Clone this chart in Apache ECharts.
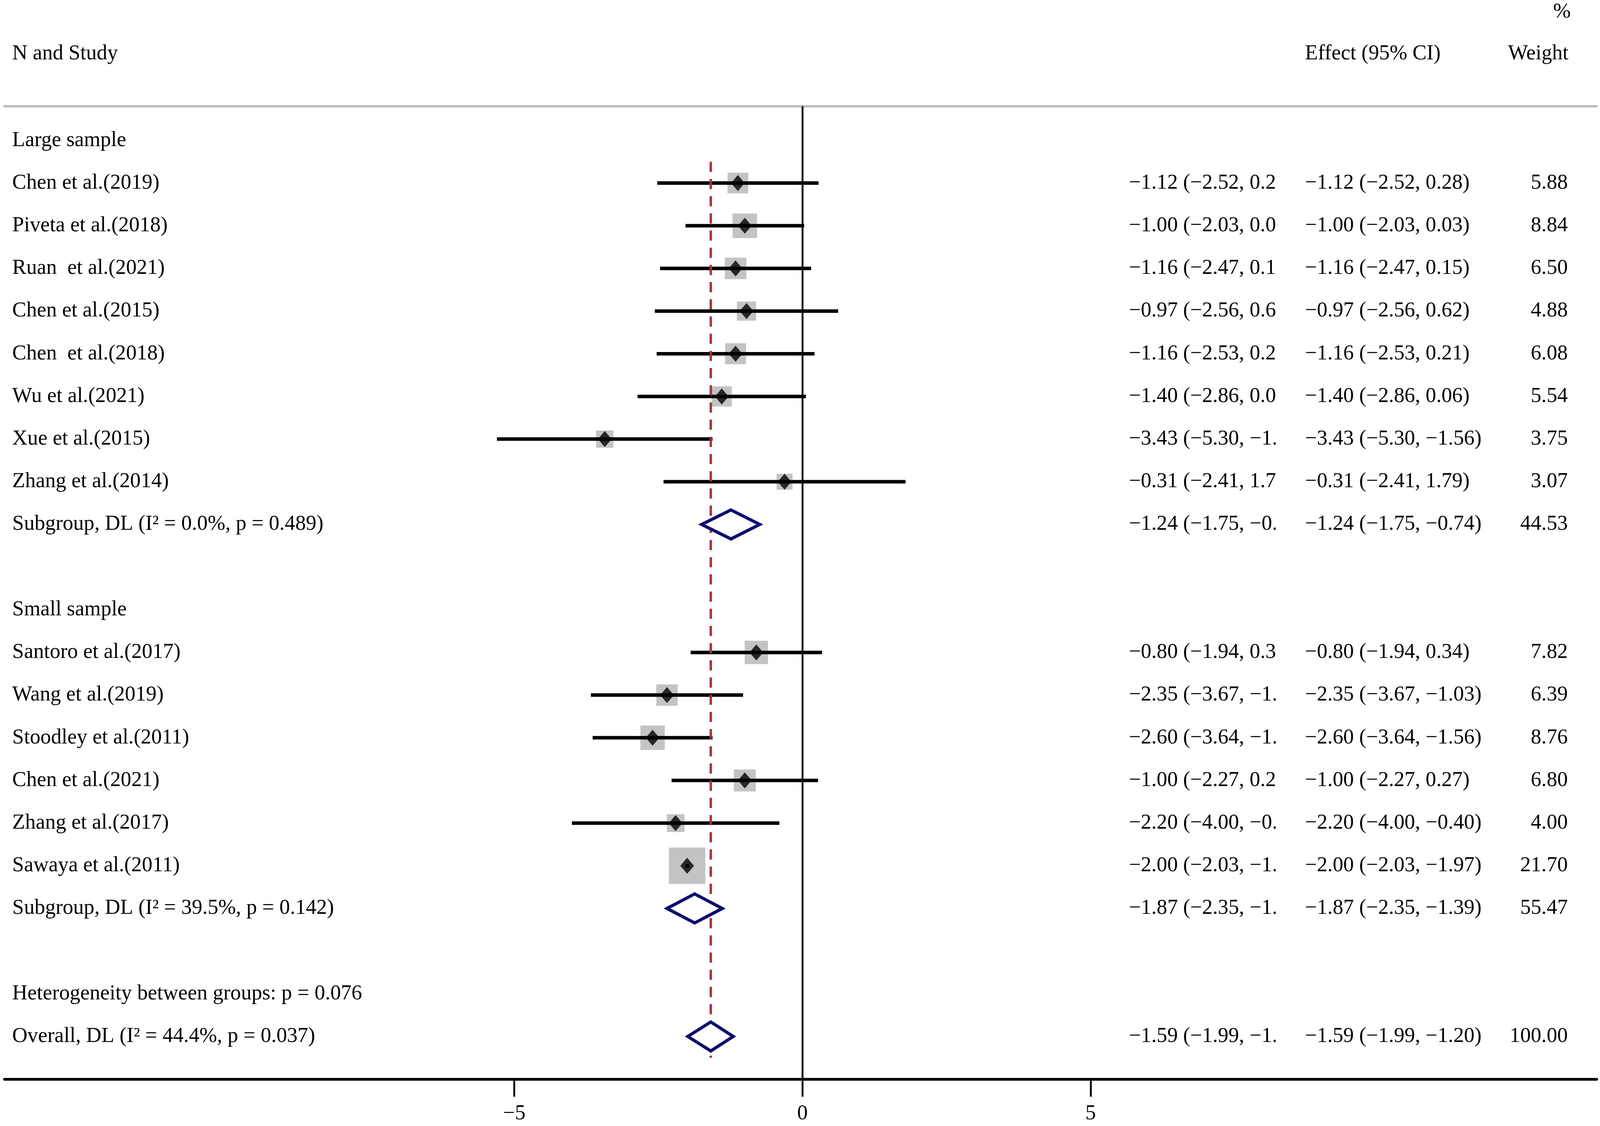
<!DOCTYPE html>
<html>
<head>
<meta charset="utf-8">
<script src="https://cdn.jsdelivr.net/npm/echarts@6/dist/echarts.min.js"></script>
<style>
  html, body { margin: 0; padding: 0; background: #fff; overflow: hidden; }
  #chart { width: 100vw; height: 100vh; }
</style>
</head>
<body>
<div id="chart"></div>
<script>
// one entry per row of the plot, top to bottom
const rowLabels = [
  'Large sample',
  'Chen et al.(2019)',
  'Piveta et al.(2018)',
  'Ruan  et al.(2021)',
  'Chen et al.(2015)',
  'Chen  et al.(2018)',
  'Wu et al.(2021)',
  'Xue et al.(2015)',
  'Zhang et al.(2014)',
  'Subgroup, DL (I² = 0.0%, p = 0.489)',
  '',
  'Small sample',
  'Santoro et al.(2017)',
  'Wang et al.(2019)',
  'Stoodley et al.(2011)',
  'Chen et al.(2021)',
  'Zhang et al.(2017)',
  'Sawaya et al.(2011)',
  'Subgroup, DL (I² = 39.5%, p = 0.142)',
  '',
  'Heterogeneity between groups: p = 0.076',
  'Overall, DL (I² = 44.4%, p = 0.037)'
]
const rowEst = [null, -1.12, -1.00, -1.16, -0.97, -1.16, -1.40, -3.43, -0.31, -1.24, null,
  null, -0.80, -2.35, -2.60, -1.00, -2.20, -2.00, -1.87, null, null, -1.59]
const rowLow = [null, -2.52, -2.03, -2.47, -2.56, -2.53, -2.86, -5.30, -2.41, -1.75, null,
  null, -1.94, -3.67, -3.64, -2.27, -4.00, -2.03, -2.35, null, null, -1.99]
const rowHigh = [null, 0.28, 0.03, 0.15, 0.62, 0.21, 0.06, -1.56, 1.79, -0.74, null,
  null, 0.34, -1.03, -1.56, 0.27, -0.40, -1.97, -1.39, null, null, -1.20]
const rowWeight = [null, 5.88, 8.84, 6.50, 4.88, 6.08, 5.54, 3.75, 3.07, 44.53, null,
  null, 7.82, 6.39, 8.76, 6.80, 4.00, 21.70, 55.47, null, null, 100.00]
const pooledRows = [9, 18, 21]
const xTicks = [-5, 0, 5]
const overallEffect = -1.59

const chart = echarts.init(document.getElementById('chart'))
// layout was measured on a 4317x2882 picture; scale to the real page
const sx = chart.getWidth() / 4317
const sy = chart.getHeight() / 2882
const px = v => v * sx
const py = v => v * sy
const FONT = `${px(57)}px "Liberation Serif"`

const studyRows = rowEst.map((v, i) => i).filter(i => rowEst[i] !== null && !pooledRows.includes(i))

const fmt = v => (v < 0 ? '\u2212' : '') + Math.abs(v).toFixed(2)
const effectText = i => `${fmt(rowEst[i])} (${fmt(rowLow[i])}, ${fmt(rowHigh[i])})`

const txt = (x, y, text, align) => ({
  type: 'text',
  x: x,
  y: y,
  style: { text: text, font: FONT, fill: '#000', align: align, verticalAlign: 'middle' }
})

const option = {
  animation: false,
  backgroundColor: '#fff',
  textStyle: { fontFamily: 'Liberation Serif' },
  grid: { left: px(12), right: px(9), top: py(272), bottom: py(120) },
  xAxis: [
    {
      type: 'value',
      min: -13.846,
      max: 13.781,
      position: 'bottom',
      splitLine: { show: false },
      axisLine: { show: true, onZero: false, lineStyle: { color: '#000', width: py(7) } },
      axisTick: { show: true, customValues: xTicks, length: py(45), lineStyle: { color: '#000', width: px(5) } },
      axisLabel: {
        show: true,
        customValues: xTicks,
        margin: py(62),
        fontSize: px(57),
        fontFamily: 'Liberation Serif',
        color: '#000',
        formatter: v => (v < 0 ? '\u2212' + Math.abs(v) : String(v))
      }
    },
    {
      type: 'value',
      min: -13.846,
      max: 13.781,
      position: 'top',
      splitLine: { show: false },
      axisLine: { show: true, onZero: false, lineStyle: { color: '#bdbdbd', width: py(6) } },
      axisTick: { show: false },
      axisLabel: { show: false }
    }
  ],
  yAxis: {
    type: 'value',
    inverse: true,
    min: -0.8,
    max: 22,
    show: false
  },
  graphic: [
    txt(px(33), py(138), 'N and Study', 'left'),
    txt(px(3521), py(138), 'Effect (95% CI)', 'left'),
    txt(px(4232), py(138), 'Weight', 'right'),
    txt(px(4238), py(31), '%', 'right')
  ],
  series: [
    {
      name: 'weight box',
      type: 'scatter',
      z: 2,
      symbol: 'rect',
      symbolSize: v => px(10 + 18.9 * Math.sqrt(v[2])),
      itemStyle: { color: '#b4b4b4' },
      silent: true,
      data: studyRows.map(i => [rowEst[i], i, rowWeight[i]]),
      markLine: {
        silent: true,
        symbol: 'none',
        label: { show: false },
        lineStyle: { color: '#000', width: px(5), type: 'solid' },
        data: [{ xAxis: 0 }]
      }
    },
    {
      name: 'ci',
      type: 'custom',
      z: 3,
      silent: true,
      data: studyRows.map(i => [rowLow[i], rowHigh[i], i]),
      renderItem: (params, api) => {
        const p1 = api.coord([api.value(0), api.value(2)])
        const p2 = api.coord([api.value(1), api.value(2)])
        return {
          type: 'line',
          shape: { x1: p1[0], y1: p1[1], x2: p2[0], y2: p2[1] },
          style: { stroke: '#000', lineWidth: py(9) }
        }
      }
    },
    {
      name: 'overall line',
      type: 'custom',
      z: 4,
      silent: true,
      data: [[overallEffect, 0.5, 21.5]],
      renderItem: (params, api) => {
        const p1 = api.coord([api.value(0), api.value(1)])
        const p2 = api.coord([api.value(0), api.value(2)])
        return {
          type: 'line',
          shape: { x1: p1[0], y1: p1[1], x2: p2[0], y2: p2[1] },
          style: { stroke: '#a0353c', lineWidth: px(6.5), lineDash: [py(26), py(18)] }
        }
      }
    },
    {
      name: 'estimate',
      type: 'scatter',
      z: 5,
      symbol: 'diamond',
      symbolSize: [px(37), py(41)],
      itemStyle: { color: '#000' },
      silent: true,
      data: studyRows.map(i => [rowEst[i], i])
    },
    {
      name: 'pooled',
      type: 'custom',
      z: 6,
      silent: true,
      data: pooledRows.map(i => [rowEst[i], rowLow[i], rowHigh[i], i]),
      renderItem: (params, api) => {
        const r = api.value(3)
        const h = 0.34
        const pts = [
          api.coord([api.value(1), r]),
          api.coord([api.value(0), r - h]),
          api.coord([api.value(2), r]),
          api.coord([api.value(0), r + h])
        ]
        return {
          type: 'polygon',
          shape: { points: pts },
          style: { fill: '#fff', stroke: '#0c0c6e', lineWidth: px(8.5), lineJoin: 'miter' }
        }
      }
    },
    {
      name: 'table',
      type: 'custom',
      z: 7,
      silent: true,
      data: rowLabels.map((l, i) => [0, i]),
      renderItem: (params, api) => {
        const i = params.dataIndex
        const y = api.coord([0, api.value(1)])[1]
        const children = [txt(px(33), y, rowLabels[i], 'left')]
        if (rowEst[i] !== null) {
          // first effect column is cut off at a fixed edge, as in the source figure
          children.push(
            {
              type: 'group',
              clipPath: { type: 'rect', shape: { x: px(3030), y: y - py(60), width: px(3442 - 3030), height: py(120) } },
              children: [txt(px(3046), y, effectText(i), 'left')]
            },
            txt(px(3521), y, effectText(i), 'left'),
            txt(px(4230), y, rowWeight[i].toFixed(2), 'right')
          )
        }
        return { type: 'group', children: children }
      }
    }
  ]
}

chart.setOption(option)
</script>
</body>
</html>
